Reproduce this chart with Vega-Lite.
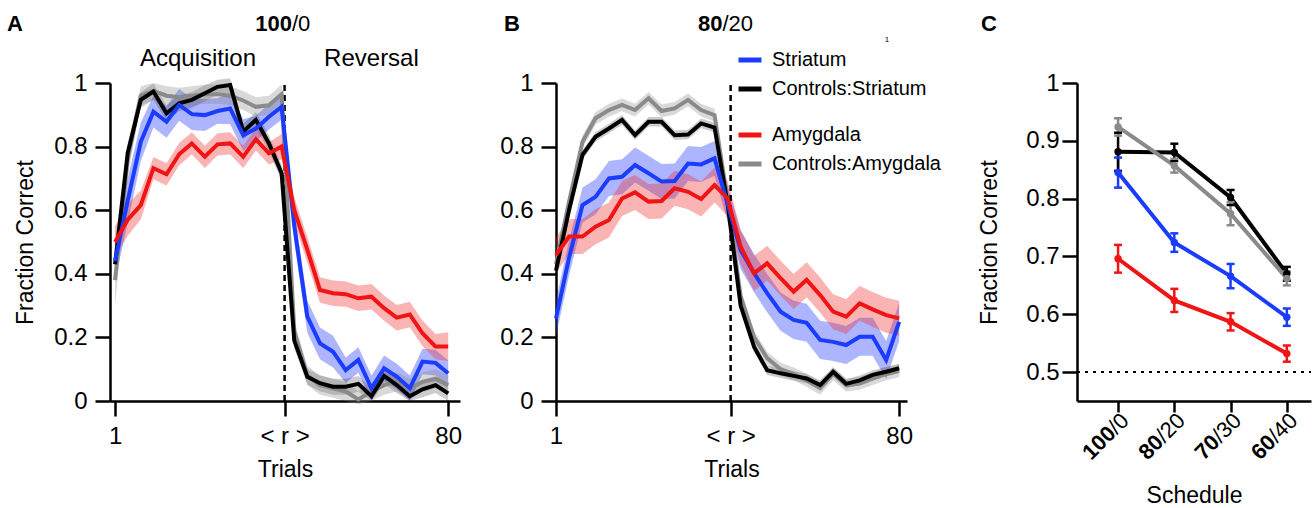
{
"$schema":"https://vega.github.io/schema/vega-lite/v6.json",
"padding":{"left":7,"top":13,"right":0,"bottom":0},
"spacing":37,
"bounds":"full",
"config":{
 "view":{"stroke":null},
 "font":"Liberation Sans",
 "axis":{"grid":false,"domainColor":"#000","domainWidth":2.5,"tickColor":"#000","tickWidth":2.5,"labelColor":"#000","titleColor":"#000","labelFont":"Liberation Sans","titleFont":"Liberation Sans","labelFontSize":24,"titleFontSize":23,"titleFontWeight":"normal","labelFlush":false,"labelOverlap":false},
 "legend":{"labelFont":"Liberation Sans","labelFontSize":20,"labelColor":"#000","symbolType":"stroke","symbolStrokeWidth":5,"symbolSize":529,"padding":0,"rowPadding":5,"labelOffset":8,"labelLimit":300}
},
"resolve":{"scale":{"color":"independent","stroke":"independent","fill":"independent"}},
"datasets":{
"trialsA":[
{"s":"Striatum","t":1,"m":0.44,"lo":0.38,"hi":0.5},
{"s":"Striatum","t":4,"m":0.63,"lo":0.56,"hi":0.7},
{"s":"Striatum","t":7.1,"m":0.815,"lo":0.755,"hi":0.875},
{"s":"Striatum","t":10.1,"m":0.91,"lo":0.86,"hi":0.96},
{"s":"Striatum","t":13.2,"m":0.878,"lo":0.828,"hi":0.928},
{"s":"Striatum","t":16.2,"m":0.931,"lo":0.881,"hi":0.981},
{"s":"Striatum","t":19.2,"m":0.902,"lo":0.852,"hi":0.952},
{"s":"Striatum","t":22.3,"m":0.899,"lo":0.849,"hi":0.949},
{"s":"Striatum","t":25.3,"m":0.912,"lo":0.872,"hi":0.952},
{"s":"Striatum","t":28.3,"m":0.92,"lo":0.87,"hi":0.97},
{"s":"Striatum","t":31.4,"m":0.836,"lo":0.786,"hi":0.886},
{"s":"Striatum","t":34.4,"m":0.857,"lo":0.817,"hi":0.897},
{"s":"Striatum","t":37.5,"m":0.894,"lo":0.854,"hi":0.934},
{"s":"Striatum","t":40.5,"m":0.925,"lo":0.885,"hi":0.965},
{"s":"Striatum","t":43.5,"m":0.55,"lo":0.5,"hi":0.6},
{"s":"Striatum","t":46.6,"m":0.265,"lo":0.215,"hi":0.315},
{"s":"Striatum","t":49.6,"m":0.181,"lo":0.131,"hi":0.231},
{"s":"Striatum","t":52.7,"m":0.155,"lo":0.105,"hi":0.205},
{"s":"Striatum","t":55.7,"m":0.097,"lo":0.057,"hi":0.137},
{"s":"Striatum","t":58.7,"m":0.129,"lo":0.089,"hi":0.169},
{"s":"Striatum","t":61.8,"m":0.04,"lo":0.0,"hi":0.08},
{"s":"Striatum","t":64.8,"m":0.103,"lo":0.063,"hi":0.143},
{"s":"Striatum","t":67.8,"m":0.077,"lo":0.037,"hi":0.117},
{"s":"Striatum","t":70.9,"m":0.04,"lo":0.0,"hi":0.08},
{"s":"Striatum","t":73.9,"m":0.124,"lo":0.084,"hi":0.164},
{"s":"Striatum","t":77,"m":0.12,"lo":0.08,"hi":0.16},
{"s":"Striatum","t":80,"m":0.087,"lo":0.047,"hi":0.127},
{"s":"Controls:Striatum","t":1,"m":0.43,"lo":0.405,"hi":0.455},
{"s":"Controls:Striatum","t":4,"m":0.78,"lo":0.755,"hi":0.805},
{"s":"Controls:Striatum","t":7.1,"m":0.947,"lo":0.922,"hi":0.972},
{"s":"Controls:Striatum","t":10.1,"m":0.973,"lo":0.948,"hi":0.998},
{"s":"Controls:Striatum","t":13.2,"m":0.905,"lo":0.88,"hi":0.93},
{"s":"Controls:Striatum","t":16.2,"m":0.936,"lo":0.911,"hi":0.961},
{"s":"Controls:Striatum","t":19.2,"m":0.947,"lo":0.922,"hi":0.972},
{"s":"Controls:Striatum","t":22.3,"m":0.968,"lo":0.943,"hi":0.993},
{"s":"Controls:Striatum","t":25.3,"m":0.988,"lo":0.963,"hi":1.01},
{"s":"Controls:Striatum","t":28.3,"m":0.994,"lo":0.969,"hi":1.015},
{"s":"Controls:Striatum","t":31.4,"m":0.847,"lo":0.822,"hi":0.872},
{"s":"Controls:Striatum","t":34.4,"m":0.884,"lo":0.859,"hi":0.909},
{"s":"Controls:Striatum","t":37.5,"m":0.81,"lo":0.785,"hi":0.835},
{"s":"Controls:Striatum","t":40.5,"m":0.716,"lo":0.691,"hi":0.741},
{"s":"Controls:Striatum","t":43.5,"m":0.19,"lo":0.165,"hi":0.215},
{"s":"Controls:Striatum","t":46.6,"m":0.076,"lo":0.051,"hi":0.101},
{"s":"Controls:Striatum","t":49.6,"m":0.056,"lo":0.031,"hi":0.081},
{"s":"Controls:Striatum","t":52.7,"m":0.045,"lo":0.02,"hi":0.07},
{"s":"Controls:Striatum","t":55.7,"m":0.045,"lo":0.02,"hi":0.07},
{"s":"Controls:Striatum","t":58.7,"m":0.054,"lo":0.029,"hi":0.079},
{"s":"Controls:Striatum","t":61.8,"m":0.015,"lo":0.0,"hi":0.04},
{"s":"Controls:Striatum","t":64.8,"m":0.079,"lo":0.054,"hi":0.104},
{"s":"Controls:Striatum","t":67.8,"m":0.05,"lo":0.025,"hi":0.075},
{"s":"Controls:Striatum","t":70.9,"m":0.015,"lo":0.0,"hi":0.04},
{"s":"Controls:Striatum","t":73.9,"m":0.037,"lo":0.012,"hi":0.062},
{"s":"Controls:Striatum","t":77,"m":0.05,"lo":0.025,"hi":0.075},
{"s":"Controls:Striatum","t":80,"m":0.024,"lo":0.0,"hi":0.049},
{"s":"Amygdala","t":1,"m":0.5,"lo":0.45,"hi":0.55},
{"s":"Amygdala","t":4,"m":0.57,"lo":0.52,"hi":0.62},
{"s":"Amygdala","t":7.1,"m":0.616,"lo":0.571,"hi":0.661},
{"s":"Amygdala","t":10.1,"m":0.732,"lo":0.697,"hi":0.767},
{"s":"Amygdala","t":13.2,"m":0.713,"lo":0.678,"hi":0.748},
{"s":"Amygdala","t":16.2,"m":0.776,"lo":0.741,"hi":0.811},
{"s":"Amygdala","t":19.2,"m":0.81,"lo":0.775,"hi":0.845},
{"s":"Amygdala","t":22.3,"m":0.768,"lo":0.733,"hi":0.803},
{"s":"Amygdala","t":25.3,"m":0.807,"lo":0.772,"hi":0.842},
{"s":"Amygdala","t":28.3,"m":0.81,"lo":0.775,"hi":0.845},
{"s":"Amygdala","t":31.4,"m":0.768,"lo":0.733,"hi":0.803},
{"s":"Amygdala","t":34.4,"m":0.823,"lo":0.788,"hi":0.858},
{"s":"Amygdala","t":37.5,"m":0.779,"lo":0.744,"hi":0.814},
{"s":"Amygdala","t":40.5,"m":0.8,"lo":0.76,"hi":0.84},
{"s":"Amygdala","t":43.5,"m":0.6,"lo":0.56,"hi":0.64},
{"s":"Amygdala","t":46.6,"m":0.475,"lo":0.435,"hi":0.515},
{"s":"Amygdala","t":49.6,"m":0.349,"lo":0.309,"hi":0.389},
{"s":"Amygdala","t":52.7,"m":0.339,"lo":0.299,"hi":0.379},
{"s":"Amygdala","t":55.7,"m":0.336,"lo":0.296,"hi":0.376},
{"s":"Amygdala","t":58.7,"m":0.323,"lo":0.283,"hi":0.363},
{"s":"Amygdala","t":61.8,"m":0.328,"lo":0.288,"hi":0.368},
{"s":"Amygdala","t":64.8,"m":0.292,"lo":0.252,"hi":0.332},
{"s":"Amygdala","t":67.8,"m":0.262,"lo":0.222,"hi":0.302},
{"s":"Amygdala","t":70.9,"m":0.272,"lo":0.232,"hi":0.312},
{"s":"Amygdala","t":73.9,"m":0.213,"lo":0.173,"hi":0.253},
{"s":"Amygdala","t":77,"m":0.171,"lo":0.131,"hi":0.211},
{"s":"Amygdala","t":80,"m":0.171,"lo":0.126,"hi":0.216},
{"s":"Controls:Amygdala","t":1,"m":0.38,"lo":0.3,"hi":0.46},
{"s":"Controls:Amygdala","t":4,"m":0.76,"lo":0.71,"hi":0.81},
{"s":"Controls:Amygdala","t":7.1,"m":0.96,"lo":0.93,"hi":0.99},
{"s":"Controls:Amygdala","t":10.1,"m":0.975,"lo":0.945,"hi":1.0},
{"s":"Controls:Amygdala","t":13.2,"m":0.96,"lo":0.93,"hi":0.99},
{"s":"Controls:Amygdala","t":16.2,"m":0.955,"lo":0.925,"hi":0.985},
{"s":"Controls:Amygdala","t":19.2,"m":0.96,"lo":0.93,"hi":0.99},
{"s":"Controls:Amygdala","t":22.3,"m":0.965,"lo":0.935,"hi":0.995},
{"s":"Controls:Amygdala","t":25.3,"m":0.965,"lo":0.935,"hi":0.995},
{"s":"Controls:Amygdala","t":28.3,"m":0.96,"lo":0.93,"hi":0.99},
{"s":"Controls:Amygdala","t":31.4,"m":0.945,"lo":0.915,"hi":0.975},
{"s":"Controls:Amygdala","t":34.4,"m":0.925,"lo":0.895,"hi":0.955},
{"s":"Controls:Amygdala","t":37.5,"m":0.93,"lo":0.9,"hi":0.96},
{"s":"Controls:Amygdala","t":40.5,"m":0.965,"lo":0.935,"hi":0.995},
{"s":"Controls:Amygdala","t":43.5,"m":0.22,"lo":0.19,"hi":0.25},
{"s":"Controls:Amygdala","t":46.6,"m":0.08,"lo":0.05,"hi":0.11},
{"s":"Controls:Amygdala","t":49.6,"m":0.05,"lo":0.02,"hi":0.08},
{"s":"Controls:Amygdala","t":52.7,"m":0.04,"lo":0.01,"hi":0.07},
{"s":"Controls:Amygdala","t":55.7,"m":0.03,"lo":0.0,"hi":0.06},
{"s":"Controls:Amygdala","t":58.7,"m":0.005,"lo":-0.01,"hi":0.03},
{"s":"Controls:Amygdala","t":61.8,"m":0.03,"lo":0.0,"hi":0.06},
{"s":"Controls:Amygdala","t":64.8,"m":0.05,"lo":0.02,"hi":0.08},
{"s":"Controls:Amygdala","t":67.8,"m":0.06,"lo":0.03,"hi":0.09},
{"s":"Controls:Amygdala","t":70.9,"m":0.04,"lo":0.01,"hi":0.07},
{"s":"Controls:Amygdala","t":73.9,"m":0.06,"lo":0.03,"hi":0.09},
{"s":"Controls:Amygdala","t":77,"m":0.07,"lo":0.04,"hi":0.1},
{"s":"Controls:Amygdala","t":80,"m":0.05,"lo":0.02,"hi":0.08}
],
"trialsB":[
{"s":"Striatum","t":1,"m":0.26,"lo":0.205,"hi":0.315},
{"s":"Striatum","t":4,"m":0.45,"lo":0.395,"hi":0.505},
{"s":"Striatum","t":7.1,"m":0.616,"lo":0.561,"hi":0.671},
{"s":"Striatum","t":10.1,"m":0.642,"lo":0.587,"hi":0.697},
{"s":"Striatum","t":13.2,"m":0.7,"lo":0.645,"hi":0.755},
{"s":"Striatum","t":16.2,"m":0.705,"lo":0.65,"hi":0.76},
{"s":"Striatum","t":19.2,"m":0.742,"lo":0.687,"hi":0.797},
{"s":"Striatum","t":22.3,"m":0.716,"lo":0.661,"hi":0.771},
{"s":"Striatum","t":25.3,"m":0.69,"lo":0.635,"hi":0.745},
{"s":"Striatum","t":28.3,"m":0.692,"lo":0.637,"hi":0.747},
{"s":"Striatum","t":31.4,"m":0.747,"lo":0.692,"hi":0.802},
{"s":"Striatum","t":34.4,"m":0.744,"lo":0.689,"hi":0.799},
{"s":"Striatum","t":37.5,"m":0.763,"lo":0.708,"hi":0.818},
{"s":"Striatum","t":40.5,"m":0.62,"lo":0.565,"hi":0.675},
{"s":"Striatum","t":43.5,"m":0.475,"lo":0.415,"hi":0.535},
{"s":"Striatum","t":46.6,"m":0.402,"lo":0.342,"hi":0.462},
{"s":"Striatum","t":49.6,"m":0.339,"lo":0.279,"hi":0.399},
{"s":"Striatum","t":52.7,"m":0.281,"lo":0.221,"hi":0.341},
{"s":"Striatum","t":55.7,"m":0.255,"lo":0.195,"hi":0.315},
{"s":"Striatum","t":58.7,"m":0.246,"lo":0.186,"hi":0.306},
{"s":"Striatum","t":61.8,"m":0.192,"lo":0.132,"hi":0.252},
{"s":"Striatum","t":64.8,"m":0.186,"lo":0.126,"hi":0.246},
{"s":"Striatum","t":67.8,"m":0.176,"lo":0.116,"hi":0.236},
{"s":"Striatum","t":70.9,"m":0.202,"lo":0.142,"hi":0.262},
{"s":"Striatum","t":73.9,"m":0.202,"lo":0.142,"hi":0.262},
{"s":"Striatum","t":77,"m":0.129,"lo":0.069,"hi":0.189},
{"s":"Striatum","t":80,"m":0.249,"lo":0.189,"hi":0.309},
{"s":"Controls:Striatum","t":1,"m":0.41,"lo":0.395,"hi":0.425},
{"s":"Controls:Striatum","t":4,"m":0.6,"lo":0.585,"hi":0.615},
{"s":"Controls:Striatum","t":7.1,"m":0.774,"lo":0.759,"hi":0.789},
{"s":"Controls:Striatum","t":10.1,"m":0.831,"lo":0.816,"hi":0.846},
{"s":"Controls:Striatum","t":13.2,"m":0.857,"lo":0.842,"hi":0.872},
{"s":"Controls:Striatum","t":16.2,"m":0.884,"lo":0.869,"hi":0.899},
{"s":"Controls:Striatum","t":19.2,"m":0.836,"lo":0.821,"hi":0.851},
{"s":"Controls:Striatum","t":22.3,"m":0.878,"lo":0.863,"hi":0.893},
{"s":"Controls:Striatum","t":25.3,"m":0.878,"lo":0.863,"hi":0.893},
{"s":"Controls:Striatum","t":28.3,"m":0.836,"lo":0.821,"hi":0.851},
{"s":"Controls:Striatum","t":31.4,"m":0.838,"lo":0.823,"hi":0.853},
{"s":"Controls:Striatum","t":34.4,"m":0.873,"lo":0.858,"hi":0.888},
{"s":"Controls:Striatum","t":37.5,"m":0.86,"lo":0.845,"hi":0.875},
{"s":"Controls:Striatum","t":40.5,"m":0.62,"lo":0.605,"hi":0.635},
{"s":"Controls:Striatum","t":43.5,"m":0.3,"lo":0.285,"hi":0.315},
{"s":"Controls:Striatum","t":46.6,"m":0.17,"lo":0.155,"hi":0.185},
{"s":"Controls:Striatum","t":49.6,"m":0.097,"lo":0.082,"hi":0.112},
{"s":"Controls:Striatum","t":52.7,"m":0.087,"lo":0.072,"hi":0.102},
{"s":"Controls:Striatum","t":55.7,"m":0.079,"lo":0.064,"hi":0.094},
{"s":"Controls:Striatum","t":58.7,"m":0.071,"lo":0.056,"hi":0.086},
{"s":"Controls:Striatum","t":61.8,"m":0.05,"lo":0.035,"hi":0.065},
{"s":"Controls:Striatum","t":64.8,"m":0.092,"lo":0.077,"hi":0.107},
{"s":"Controls:Striatum","t":67.8,"m":0.054,"lo":0.039,"hi":0.069},
{"s":"Controls:Striatum","t":70.9,"m":0.065,"lo":0.05,"hi":0.08},
{"s":"Controls:Striatum","t":73.9,"m":0.082,"lo":0.067,"hi":0.097},
{"s":"Controls:Striatum","t":77,"m":0.092,"lo":0.077,"hi":0.107},
{"s":"Controls:Striatum","t":80,"m":0.103,"lo":0.088,"hi":0.118},
{"s":"Amygdala","t":1,"m":0.459,"lo":0.404,"hi":0.514},
{"s":"Amygdala","t":4,"m":0.517,"lo":0.462,"hi":0.572},
{"s":"Amygdala","t":7.1,"m":0.517,"lo":0.462,"hi":0.572},
{"s":"Amygdala","t":10.1,"m":0.548,"lo":0.493,"hi":0.603},
{"s":"Amygdala","t":13.2,"m":0.569,"lo":0.514,"hi":0.624},
{"s":"Amygdala","t":16.2,"m":0.637,"lo":0.582,"hi":0.692},
{"s":"Amygdala","t":19.2,"m":0.656,"lo":0.601,"hi":0.711},
{"s":"Amygdala","t":22.3,"m":0.627,"lo":0.572,"hi":0.682},
{"s":"Amygdala","t":25.3,"m":0.629,"lo":0.574,"hi":0.684},
{"s":"Amygdala","t":28.3,"m":0.669,"lo":0.614,"hi":0.724},
{"s":"Amygdala","t":31.4,"m":0.658,"lo":0.603,"hi":0.713},
{"s":"Amygdala","t":34.4,"m":0.635,"lo":0.58,"hi":0.69},
{"s":"Amygdala","t":37.5,"m":0.679,"lo":0.624,"hi":0.734},
{"s":"Amygdala","t":40.5,"m":0.637,"lo":0.582,"hi":0.692},
{"s":"Amygdala","t":43.5,"m":0.485,"lo":0.43,"hi":0.54},
{"s":"Amygdala","t":46.6,"m":0.402,"lo":0.347,"hi":0.457},
{"s":"Amygdala","t":49.6,"m":0.433,"lo":0.378,"hi":0.488},
{"s":"Amygdala","t":52.7,"m":0.386,"lo":0.331,"hi":0.441},
{"s":"Amygdala","t":55.7,"m":0.344,"lo":0.289,"hi":0.399},
{"s":"Amygdala","t":58.7,"m":0.381,"lo":0.326,"hi":0.436},
{"s":"Amygdala","t":61.8,"m":0.333,"lo":0.278,"hi":0.388},
{"s":"Amygdala","t":64.8,"m":0.281,"lo":0.226,"hi":0.336},
{"s":"Amygdala","t":67.8,"m":0.265,"lo":0.21,"hi":0.32},
{"s":"Amygdala","t":70.9,"m":0.307,"lo":0.252,"hi":0.362},
{"s":"Amygdala","t":73.9,"m":0.288,"lo":0.233,"hi":0.343},
{"s":"Amygdala","t":77,"m":0.27,"lo":0.215,"hi":0.325},
{"s":"Amygdala","t":80,"m":0.26,"lo":0.205,"hi":0.315},
{"s":"Controls:Amygdala","t":1,"m":0.43,"lo":0.41,"hi":0.45},
{"s":"Controls:Amygdala","t":4,"m":0.627,"lo":0.607,"hi":0.647},
{"s":"Controls:Amygdala","t":7.1,"m":0.815,"lo":0.795,"hi":0.835},
{"s":"Controls:Amygdala","t":10.1,"m":0.889,"lo":0.869,"hi":0.909},
{"s":"Controls:Amygdala","t":13.2,"m":0.915,"lo":0.895,"hi":0.935},
{"s":"Controls:Amygdala","t":16.2,"m":0.931,"lo":0.911,"hi":0.951},
{"s":"Controls:Amygdala","t":19.2,"m":0.915,"lo":0.895,"hi":0.935},
{"s":"Controls:Amygdala","t":22.3,"m":0.952,"lo":0.932,"hi":0.972},
{"s":"Controls:Amygdala","t":25.3,"m":0.912,"lo":0.892,"hi":0.932},
{"s":"Controls:Amygdala","t":28.3,"m":0.92,"lo":0.9,"hi":0.94},
{"s":"Controls:Amygdala","t":31.4,"m":0.947,"lo":0.927,"hi":0.967},
{"s":"Controls:Amygdala","t":34.4,"m":0.915,"lo":0.895,"hi":0.935},
{"s":"Controls:Amygdala","t":37.5,"m":0.899,"lo":0.879,"hi":0.919},
{"s":"Controls:Amygdala","t":40.5,"m":0.63,"lo":0.61,"hi":0.65},
{"s":"Controls:Amygdala","t":43.5,"m":0.33,"lo":0.31,"hi":0.35},
{"s":"Controls:Amygdala","t":46.6,"m":0.2,"lo":0.18,"hi":0.22},
{"s":"Controls:Amygdala","t":49.6,"m":0.135,"lo":0.115,"hi":0.155},
{"s":"Controls:Amygdala","t":52.7,"m":0.1,"lo":0.08,"hi":0.12},
{"s":"Controls:Amygdala","t":55.7,"m":0.085,"lo":0.065,"hi":0.105},
{"s":"Controls:Amygdala","t":58.7,"m":0.065,"lo":0.045,"hi":0.085},
{"s":"Controls:Amygdala","t":61.8,"m":0.04,"lo":0.02,"hi":0.06},
{"s":"Controls:Amygdala","t":64.8,"m":0.085,"lo":0.065,"hi":0.105},
{"s":"Controls:Amygdala","t":67.8,"m":0.05,"lo":0.03,"hi":0.07},
{"s":"Controls:Amygdala","t":70.9,"m":0.055,"lo":0.035,"hi":0.075},
{"s":"Controls:Amygdala","t":73.9,"m":0.07,"lo":0.05,"hi":0.09},
{"s":"Controls:Amygdala","t":77,"m":0.085,"lo":0.065,"hi":0.105},
{"s":"Controls:Amygdala","t":80,"m":0.095,"lo":0.075,"hi":0.115}
],
"sched":[
{"s":"Amygdala","i":1,"m":0.696,"lo":0.672,"hi":0.72},
{"s":"Amygdala","i":2,"m":0.624,"lo":0.604,"hi":0.644},
{"s":"Amygdala","i":3,"m":0.587,"lo":0.572,"hi":0.602},
{"s":"Amygdala","i":4,"m":0.532,"lo":0.518,"hi":0.546},
{"s":"Striatum","i":1,"m":0.845,"lo":0.819,"hi":0.871},
{"s":"Striatum","i":2,"m":0.724,"lo":0.708,"hi":0.74},
{"s":"Striatum","i":3,"m":0.666,"lo":0.645,"hi":0.687},
{"s":"Striatum","i":4,"m":0.595,"lo":0.58,"hi":0.61},
{"s":"Controls:Striatum","i":1,"m":0.881,"lo":0.848,"hi":0.914},
{"s":"Controls:Striatum","i":2,"m":0.88,"lo":0.865,"hi":0.895},
{"s":"Controls:Striatum","i":3,"m":0.802,"lo":0.789,"hi":0.815},
{"s":"Controls:Striatum","i":4,"m":0.67,"lo":0.658,"hi":0.682},
{"s":"Controls:Amygdala","i":1,"m":0.924,"lo":0.909,"hi":0.939},
{"s":"Controls:Amygdala","i":2,"m":0.857,"lo":0.845,"hi":0.869},
{"s":"Controls:Amygdala","i":3,"m":0.774,"lo":0.754,"hi":0.794},
{"s":"Controls:Amygdala","i":4,"m":0.662,"lo":0.65,"hi":0.674}
],
"schedLabels":[
{"i":1,"num":"100","rest":"/0"},
{"i":2,"num":"80","rest":"/20"},
{"i":3,"num":"70","rest":"/30"},
{"i":4,"num":"60","rest":"/40"}
]
},
"hconcat":[
{
"width":350,"height":318,
"layer":[
 {"data":{"name":"trialsA"},"mark":{"type":"area","opacity":1},"encoding":{
   "x":{"field":"t","type":"quantitative","scale":{"domain":[-0.2,82.8],"nice":false,"zero":false},"axis":{"values":[1,41.2,80],"labelExpr":"datum.value == 1 ? '1' : datum.value == 80 ? '80' : '< r >'","tickSize":15,"labelPadding":8,"title":"Trials","titlePadding":10}},
   "y":{"field":"lo","type":"quantitative","scale":{"domain":[0,1],"nice":false,"zero":false},"axis":{"values":[0,0.1,0.2,0.3,0.4,0.5,0.6,0.7,0.8,0.9,1],"labelExpr":"round(datum.value*10) % 2 == 0 ? (datum.value == 0 ? '0' : datum.value == 1 ? '1' : format(datum.value, '.1f')) : ''","tickSize":15,"labelPadding":8,"title":"Fraction Correct","titlePadding":16}},
   "y2":{"field":"hi"},
   "fill":{"field":"s","type":"nominal","scale":{"domain":["Striatum","Controls:Striatum","Amygdala","Controls:Amygdala"],"range":["rgba(50,70,255,0.4)","rgba(0,0,0,0.2)","rgba(240,40,40,0.35)","rgba(128,128,128,0.3)"]},"legend":null}
 }},
 {"data":{"values":[{}]},"mark":{"type":"rule","strokeDash":[6,4],"strokeWidth":2.5,"color":"#000"},"encoding":{"x":{"datum":41.2},"y":{"datum":0},"y2":{"datum":0.995}}},
 {"data":{"name":"trialsA"},"transform":[{"filter":"datum.s == 'Controls:Amygdala'"}],"mark":{"type":"line","strokeWidth":4},"encoding":{"x":{"field":"t","type":"quantitative"},"y":{"field":"m","type":"quantitative"},"stroke":{"field":"s","type":"nominal","scale":{"domain":["Amygdala","Controls:Amygdala"],"range":["#f01414","#8a8a8a"]},"legend":null}}},
 {"data":{"name":"trialsA"},"transform":[{"filter":"datum.s == 'Controls:Striatum'"}],"mark":{"type":"line","strokeWidth":4},"encoding":{"x":{"field":"t","type":"quantitative"},"y":{"field":"m","type":"quantitative"},"color":{"field":"s","type":"nominal","scale":{"domain":["Striatum","Controls:Striatum"],"range":["#1a3cff","#000000"]},"legend":null}}},
 {"data":{"name":"trialsA"},"transform":[{"filter":"datum.s == 'Striatum'"}],"mark":{"type":"line","strokeWidth":4},"encoding":{"x":{"field":"t","type":"quantitative"},"y":{"field":"m","type":"quantitative"},"color":{"field":"s","type":"nominal","scale":{"domain":["Striatum","Controls:Striatum"],"range":["#1a3cff","#000000"]},"legend":null}}},
 {"data":{"name":"trialsA"},"transform":[{"filter":"datum.s == 'Amygdala'"}],"mark":{"type":"line","strokeWidth":4},"encoding":{"x":{"field":"t","type":"quantitative"},"y":{"field":"m","type":"quantitative"},"stroke":{"field":"s","type":"nominal","scale":{"domain":["Amygdala","Controls:Amygdala"],"range":["#f01414","#8a8a8a"]},"legend":null}}},
 {"data":{"values":[{}]},"mark":{"type":"text","text":"A","fontSize":22,"fontWeight":"bold","align":"left","baseline":"alphabetic","color":"#000"},"encoding":{"x":{"datum":-24.6},"y":{"datum":1.1635}}},
 {"data":{"values":[{}]},"mark":{"type":"text","text":"100","fontSize":22,"fontWeight":"bold","align":"right","baseline":"alphabetic","color":"#000"},"encoding":{"x":{"datum":42.96},"y":{"datum":1.1635}}},
 {"data":{"values":[{}]},"mark":{"type":"text","text":"/0","fontSize":22,"fontWeight":"normal","align":"left","baseline":"alphabetic","color":"#000"},"encoding":{"x":{"datum":42.96},"y":{"datum":1.1635}}},
 {"data":{"values":[{}]},"mark":{"type":"text","text":"Acquisition","fontSize":24,"align":"center","baseline":"alphabetic","color":"#000"},"encoding":{"x":{"datum":20.67},"y":{"datum":1.0535}}},
 {"data":{"values":[{}]},"mark":{"type":"text","text":"Reversal","fontSize":24,"align":"center","baseline":"alphabetic","color":"#000"},"encoding":{"x":{"datum":61.8},"y":{"datum":1.0535}}}
]
},
{
"width":351,"height":318,
"layer":[
 {"data":{"name":"trialsB"},"mark":{"type":"area","opacity":1},"encoding":{
   "x":{"field":"t","type":"quantitative","scale":{"domain":[1,81.8],"nice":false,"zero":false},"axis":{"values":[1,41.2,80],"labelExpr":"datum.value == 1 ? '1' : datum.value == 80 ? '80' : '< r >'","tickSize":15,"labelPadding":8,"title":"Trials","titlePadding":10}},
   "y":{"field":"lo","type":"quantitative","scale":{"domain":[0,1],"nice":false,"zero":false},"axis":{"values":[0,0.1,0.2,0.3,0.4,0.5,0.6,0.7,0.8,0.9,1],"labelExpr":"round(datum.value*10) % 2 == 0 ? (datum.value == 0 ? '0' : datum.value == 1 ? '1' : format(datum.value, '.1f')) : ''","tickSize":15,"labelPadding":8,"title":null}},
   "y2":{"field":"hi"},
   "fill":{"field":"s","type":"nominal","scale":{"domain":["Striatum","Controls:Striatum","Amygdala","Controls:Amygdala"],"range":["rgba(50,70,255,0.4)","rgba(0,0,0,0.2)","rgba(240,40,40,0.35)","rgba(128,128,128,0.3)"]},"legend":null}
 }},
 {"data":{"values":[{}]},"mark":{"type":"rule","strokeDash":[6,4],"strokeWidth":2.5,"color":"#000"},"encoding":{"x":{"datum":41.2},"y":{"datum":0},"y2":{"datum":0.995}}},
 {"data":{"name":"trialsB"},"transform":[{"filter":"datum.s == 'Controls:Amygdala'"}],"mark":{"type":"line","strokeWidth":4},"encoding":{"x":{"field":"t","type":"quantitative"},"y":{"field":"m","type":"quantitative"},"stroke":{"field":"s","type":"nominal","scale":{"domain":["Amygdala","Controls:Amygdala"],"range":["#f01414","#8a8a8a"]},"legend":{"orient":"none","direction":"vertical","legendX":180,"legendY":38,"title":null}}}},
 {"data":{"name":"trialsB"},"transform":[{"filter":"datum.s == 'Controls:Striatum'"}],"mark":{"type":"line","strokeWidth":4},"encoding":{"x":{"field":"t","type":"quantitative"},"y":{"field":"m","type":"quantitative"},"color":{"field":"s","type":"nominal","scale":{"domain":["Striatum","Controls:Striatum"],"range":["#1a3cff","#000000"]},"legend":{"orient":"none","direction":"vertical","legendX":180,"legendY":-37,"title":null}}}},
 {"data":{"name":"trialsB"},"transform":[{"filter":"datum.s == 'Striatum'"}],"mark":{"type":"line","strokeWidth":4},"encoding":{"x":{"field":"t","type":"quantitative"},"y":{"field":"m","type":"quantitative"},"color":{"field":"s","type":"nominal","scale":{"domain":["Striatum","Controls:Striatum"],"range":["#1a3cff","#000000"]},"legend":{"orient":"none","direction":"vertical","legendX":180,"legendY":-37,"title":null}}}},
 {"data":{"name":"trialsB"},"transform":[{"filter":"datum.s == 'Amygdala'"}],"mark":{"type":"line","strokeWidth":4},"encoding":{"x":{"field":"t","type":"quantitative"},"y":{"field":"m","type":"quantitative"},"stroke":{"field":"s","type":"nominal","scale":{"domain":["Amygdala","Controls:Amygdala"],"range":["#f01414","#8a8a8a"]},"legend":{"orient":"none","direction":"vertical","legendX":180,"legendY":38,"title":null}}}},
 {"data":{"values":[{}]},"mark":{"type":"text","text":"B","fontSize":22,"fontWeight":"bold","align":"left","baseline":"alphabetic","color":"#000"},"encoding":{"x":{"datum":-10.97},"y":{"datum":1.1635}}},
 {"data":{"values":[{}]},"mark":{"type":"text","text":"80","fontSize":22,"fontWeight":"bold","align":"right","baseline":"alphabetic","color":"#000"},"encoding":{"x":{"datum":39.33},"y":{"datum":1.1635}}},
 {"data":{"values":[{}]},"mark":{"type":"text","text":"/20","fontSize":22,"fontWeight":"normal","align":"left","baseline":"alphabetic","color":"#000"},"encoding":{"x":{"datum":39.33},"y":{"datum":1.1635}}},
 {"data":{"values":[{}]},"mark":{"type":"text","text":"1","fontSize":8,"align":"center","baseline":"alphabetic","color":"#000"},"encoding":{"x":{"datum":77.2},"y":{"datum":1.129}}}
]
},
{
"width":234,"height":318,
"layer":[
 {"data":{"values":[{}]},"mark":{"type":"rule","strokeDash":[3,5],"strokeWidth":2,"color":"#000"},"encoding":{"x":{"datum":0.27},"x2":{"datum":4.43},"y":{"datum":0.5}}},
 {"data":{"name":"sched"},"mark":{"type":"line","strokeWidth":4},"encoding":{
   "x":{"field":"i","type":"quantitative","scale":{"domain":[0.27,4.43],"nice":false,"zero":false},"axis":{"values":[1,2,3,4],"labels":false,"tickSize":11,"title":"Schedule","titlePadding":71}},
   "y":{"field":"m","type":"quantitative","scale":{"domain":[0.45,1],"nice":false,"zero":false},"axis":{"values":[0.5,0.6,0.7,0.8,0.9,1],"labelExpr":"datum.value == 1 ? '1' : format(datum.value, '.1f')","tickSize":15,"labelPadding":3,"title":"Fraction Correct","titlePadding":24}},
   "color":{"field":"s","type":"nominal","scale":{"domain":["Striatum","Controls:Striatum","Amygdala","Controls:Amygdala"],"range":["#1a3cff","#000000","#f01414","#8a8a8a"]},"legend":null}
 }},
 {"data":{"name":"sched"},"mark":{"type":"rule","strokeWidth":2.5},"encoding":{"x":{"field":"i","type":"quantitative"},"y":{"field":"lo","type":"quantitative"},"y2":{"field":"hi"},"color":{"field":"s","type":"nominal","legend":null}}},
 {"data":{"name":"sched"},"mark":{"type":"tick","orient":"horizontal","size":8,"thickness":2.5,"opacity":1},"encoding":{"x":{"field":"i","type":"quantitative"},"y":{"field":"lo","type":"quantitative"},"color":{"field":"s","type":"nominal","legend":null}}},
 {"data":{"name":"sched"},"mark":{"type":"tick","orient":"horizontal","size":8,"thickness":2.5,"opacity":1},"encoding":{"x":{"field":"i","type":"quantitative"},"y":{"field":"hi","type":"quantitative"},"color":{"field":"s","type":"nominal","legend":null}}},
 {"data":{"name":"sched"},"mark":{"type":"point","filled":true,"size":55,"opacity":1},"encoding":{"x":{"field":"i","type":"quantitative"},"y":{"field":"m","type":"quantitative"},"color":{"field":"s","type":"nominal","legend":null}}},
 {"data":{"name":"schedLabels"},"transform":[{"filter":"datum.i == 1"}],"mark":{"type":"text","fontSize":22,"fontWeight":"bold","align":"right","baseline":"top","angle":315,"dx":-18.3,"color":"#000"},"encoding":{"x":{"field":"i","type":"quantitative"},"y":{"datum":0.4345},"text":{"field":"num"}}},
 {"data":{"name":"schedLabels"},"transform":[{"filter":"datum.i != 1"}],"mark":{"type":"text","fontSize":22,"fontWeight":"bold","align":"right","baseline":"top","angle":315,"dx":-30.6,"color":"#000"},"encoding":{"x":{"field":"i","type":"quantitative"},"y":{"datum":0.4345},"text":{"field":"num"}}},
 {"data":{"name":"schedLabels"},"mark":{"type":"text","fontSize":22,"fontWeight":"normal","align":"right","baseline":"top","angle":315,"color":"#000"},"encoding":{"x":{"field":"i","type":"quantitative"},"y":{"datum":0.4345},"text":{"field":"rest"}}},
 {"data":{"values":[{}]},"mark":{"type":"text","text":"C","fontSize":22,"fontWeight":"bold","align":"left","baseline":"alphabetic","color":"#000"},"encoding":{"x":{"datum":-1.437},"y":{"datum":1.0899}}}
]
}
]
}
